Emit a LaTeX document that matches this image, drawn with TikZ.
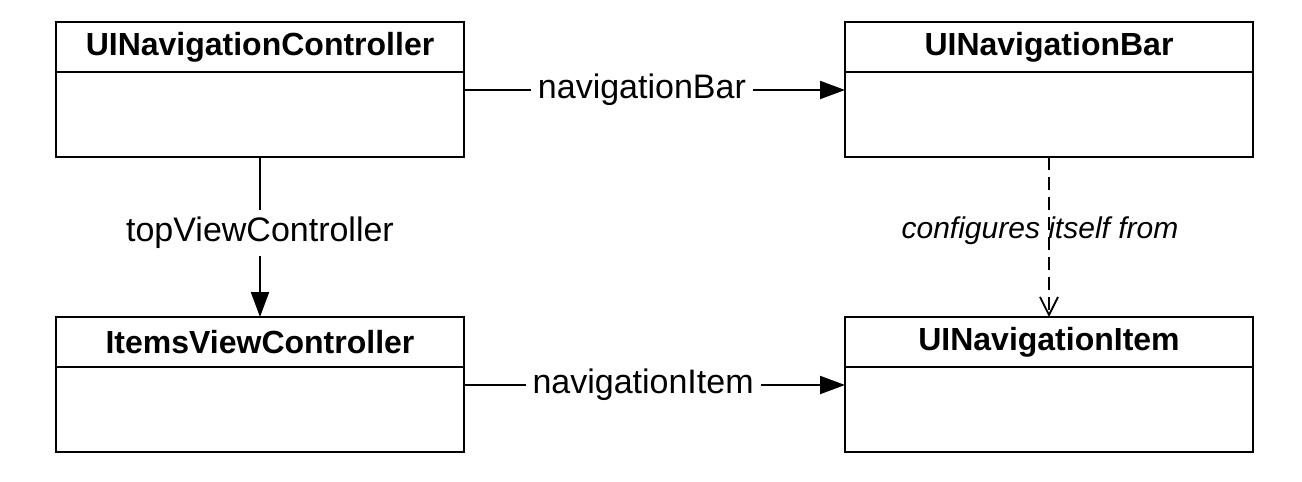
\documentclass[tikz,border=0pt]{standalone}
\usepackage{fontspec}
\setmainfont{Liberation Sans}
\usepackage{tikz}
\usetikzlibrary{arrows.meta,positioning}

\begin{document}
\begin{tikzpicture}[
    x=0.5pt, y=-0.5pt,
    head/.style={draw, rectangle, line width=1.2pt, outer sep=0pt, minimum width=204pt, minimum height=25pt, inner sep=0pt, font=\fontsize{16}{19}\selectfont\bfseries},
    body/.style={draw, rectangle, line width=1.2pt, outer sep=0pt, minimum width=204pt, minimum height=42.5pt, inner sep=0pt},
    lbl/.style={font=\fontsize{17}{20}\selectfont, fill=white, inner sep=3.5pt},
    arrow/.style={-{Triangle[length=12.5pt, width=9pt]}, line width=1pt},
    dasharrow/.style={-{Straight Barb[length=9pt, width=9pt, line width=0.9pt]}, line width=1pt, dash pattern=on 6.5pt off 3.5pt}
]
    \useasboundingbox (0,0) rectangle (1302,482);

    % --- class boxes: header + body ---
    \node[head] (navctrl) at (260,47) {UINavigationController};
    \node[body] (navctrl_body) [below=0pt of navctrl] {};
    \node[head] (navbar) at (1049,47) {UINavigationBar};
    \node[body] (navbar_body) [below=0pt of navbar] {};
    \node[head] (itemsvc) at (260,342) {ItemsViewController};
    \node[body] (itemsvc_body) [below=0pt of itemsvc] {};
    \node[head] (navitem) at (1049,342) {UINavigationItem};
    \node[body] (navitem_body) [below=0pt of navitem] {};

    % --- references ---
    \draw[arrow] ([yshift=12.25pt]navctrl_body.east) -- node[lbl, pos=0.467] {navigationBar} ([yshift=12.25pt]navbar_body.west);
    \draw[arrow] (navctrl_body.south) -- node[lbl, pos=0.475] {topViewController} (itemsvc.north);
    \draw[arrow] ([yshift=12.25pt]itemsvc_body.east) -- node[lbl, pos=0.47] {navigationItem} ([yshift=12.25pt]navitem_body.west);

    % --- dependency ---
    \draw[dasharrow] (navbar_body.south) -- node[pos=0.46, xshift=-4.5pt, font=\fontsize{15}{18}\selectfont\itshape] {configures itself from} (navitem.north);

\end{tikzpicture}
\end{document}
